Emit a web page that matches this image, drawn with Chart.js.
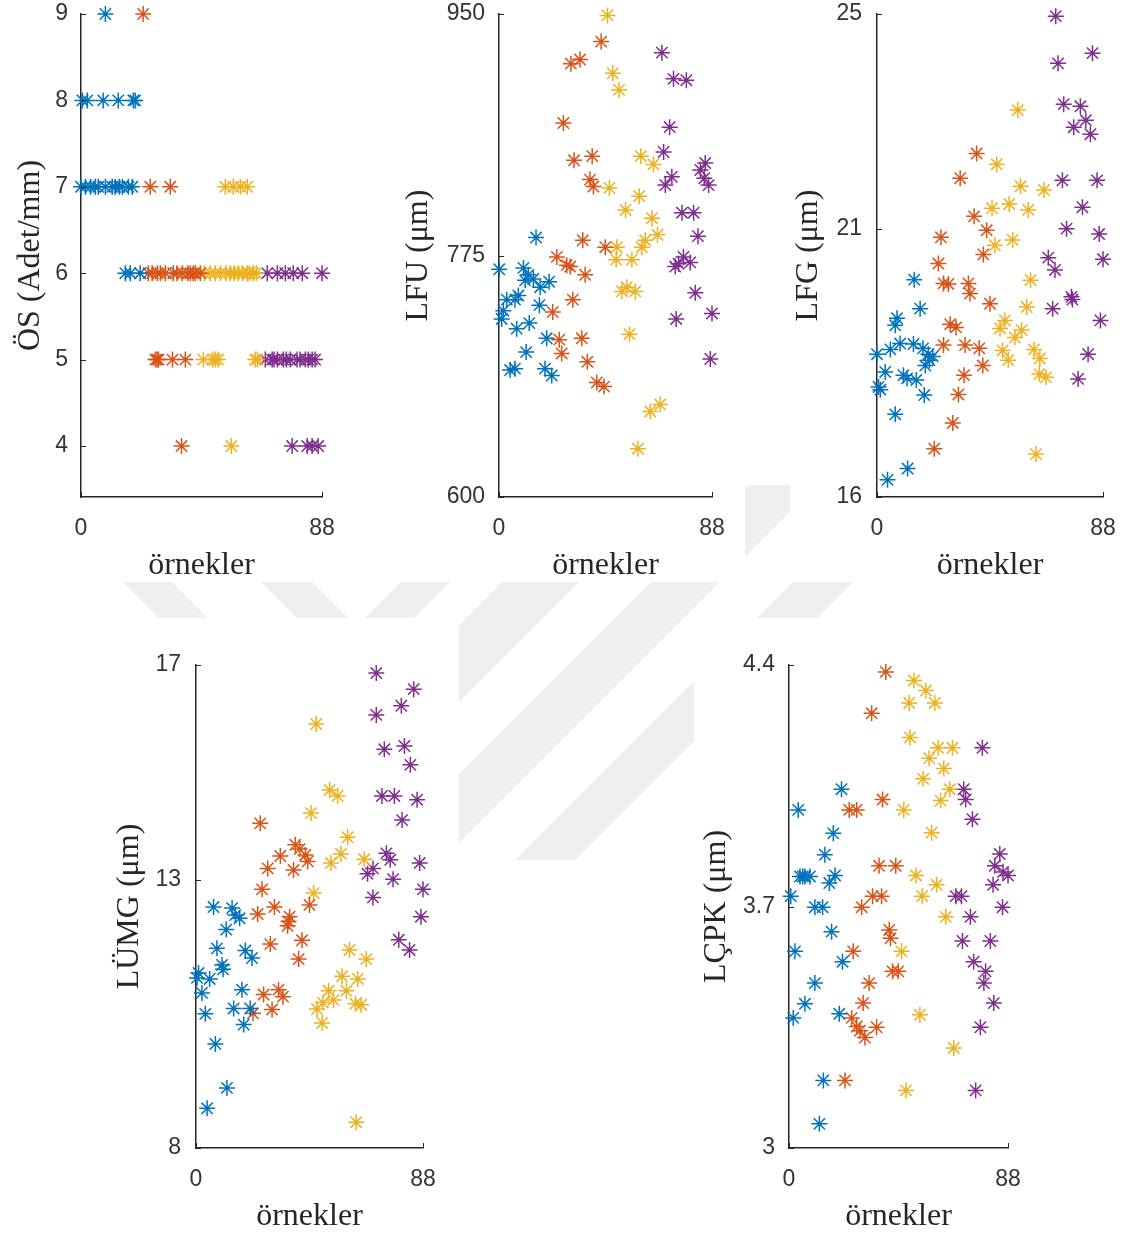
<!DOCTYPE html>
<html>
<head>
<meta charset="utf-8">
<script src="https://cdn.jsdelivr.net/npm/chart.js@4.4.0/dist/chart.umd.min.js"></script>
<style>
  body { margin: 0; background: #fff; width: 1126px; height: 1234px; position: relative; overflow: hidden; }
  #watermark { position: absolute; left: 0; top: 0; }
  .panel { position: absolute; }
</style>
</head>
<body>
<!-- faint background logo, mostly hidden behind the white figure boxes -->
<svg id="watermark" width="1126" height="1234">
  <g fill="#efefef">
    <polygon points="498,485 547,485 172,860 123,860"/>
    <polygon points="599,485 676,485 301,860 224,860"/>
    <polygon points="748,485 817,485 442,860 373,860"/>
    <polygon points="890,485 950,485 575,860 515,860"/>
    <polygon points="101,560 150,560 230,640 181,640"/>
    <polygon points="239,560 290,560 370,640 319,640"/>
  </g>
  <g fill="#fff">
    <rect x="0" y="0" width="745" height="582"/>
    <rect x="790" y="0" width="336" height="582"/>
    <rect x="0" y="618" width="459" height="616"/>
    <rect x="694" y="618" width="432" height="616"/>
  </g>
</svg>
<script>
// x axis and tick values
const xTicks = [0, 88];
const osTicks = [4, 5, 6, 7, 8, 9];
const lfuTicks = [600, 775, 950];
const lfgTicks = [16, 21, 25];
const lumgTicks = [8, 13, 17];
const lcpkTicks = [3, 3.7, 4.4];

// ÖS (Adet/mm)
const osBlue = [[8.9,9],[0.5,8],[2.3,8],[8.1,8],[13.6,8],[19.1,8],[19.8,8],
  [0,7],[1.6,7],[3.5,7],[5.2,7],[6.3,7],[8.9,7],[11.4,7],[12.5,7],[14,7],[15.1,7],[17.3,7],[18.7,7],
  [16.2,6],[18,6],[21.6,6]];
const osOrange = [[22.7,9],[25.3,7],[32.6,7],
  [24.6,6],[26,6],[27.9,6],[29,6],[30.8,6],[33.7,6],[35,6],[37,6],[39,6],[39.9,6],[41,6],[41.8,6],[43.6,6],
  [27.2,5],[27.8,5],[28.3,5],[33.4,5],[38.1,5],[36.7,4]];
const osYellow = [[52.7,7],[55.6,7],[58.2,7],[60.7,7],
  [45,6],[47.2,6],[49,6],[50.9,6],[53,6],[54.5,6],[56,6],[57.4,6],[59,6],[60.7,6],[61.5,6],[62.9,6],[64,6],
  [44.7,5],[48,5],[49,5],[50.1,5],[63.6,5],[64.4,5],[54.9,4]];
const osPurple = [[68,6],[71.7,6],[74.6,6],[77.5,6],[80.8,6],[88,6],
  [67.3,5],[69.8,5],[70.5,5],[71.7,5],[73.9,5],[75,5],[76.4,5],[78.9,5],[80,5],[81.9,5],[83,5],[84.4,5],[85.5,5],
  [77.1,4],[82.6,4],[84.4,4],[86.6,4]];

// LFU (µm)
const lfuBlue = [[15.3,788],[0.1,765],[10.1,766],[12.1,761],[14.2,758],[10.8,757],[17,752],[20.7,756],
  [3.2,743],[6.6,743],[8,746],[1.8,735],[1.1,729],[16.7,739],[7.3,722],[12.5,726],[19.7,715],[11.2,705],
  [4.6,692],[6.6,693],[19,693],[21.8,688]];
const lfuOrange = [[42.2,930],[29.7,914],[33.5,917],[26.6,871],[31,844],[38.5,847],[37.6,830],[39,825],
  [34.6,786],[43.9,781],[23.9,774],[28,768],[29.4,767],[35.6,761],[30.5,743],[22.2,734],[24.9,714],
  [34.2,715],[25.9,704],[36.5,698],[40.4,683],[43.4,680]];
const lfuYellow = [[44.8,949],[47,907],[49.6,895],[58.6,847],[63.8,841],[45.6,824],[57.9,818],[52.3,808],
  [63.2,802],[48.7,781],[60.4,786],[65.5,790],[59,781],[48.4,772],[54.9,772],[52.8,752],[56.3,749],
  [50.8,749],[53.9,718],[66.6,667],[62.5,662],[57.4,635]];
const lfuPurple = [[67.3,922],[72.1,903],[77.4,902],[70.5,868],[68,850],[85.2,842],[83.2,837],[84.8,831],
  [86.6,826],[71.4,832],[68.7,826],[75.6,806],[80.4,806],[82.2,789],[76.2,774],[79,770],[74.2,769],
  [72.8,767],[81.1,748],[88,733],[73.2,729],[87.3,700]];

// LFG (µm)
const lfgBlue = [[14.5,20.05],[16.8,19.51],[7.8,19.33],[7.1,19.2],[0,18.66],[5.2,18.75],[9,18.86],
  [14.2,18.85],[17.9,18.77],[20,18.66],[21.7,18.62],[20.4,18.55],[18.8,18.45],[3.2,18.33],[10.3,18.27],
  [11.7,18.21],[15.3,18.18],[0.6,18.05],[1.3,18],[18.4,17.9],[7.1,17.54],[11.9,16.53],[4.1,16.32]];
const lfgOrange = [[38.8,22.4],[32.4,21.94],[37.8,21.23],[42.7,20.97],[24.9,20.84],[41.4,20.52],
  [23.9,20.35],[25.9,19.98],[27.8,19.97],[35.6,19.98],[36.2,19.79],[44,19.6],[28.5,19.22],[30.8,19.16],
  [25.9,18.83],[34.3,18.83],[39.8,18.77],[41.2,18.45],[33.9,18.27],[31.7,17.91],[29.5,17.38],[22.3,16.9]];
const lfgYellow = [[54.8,23.21],[46.6,22.2],[55.9,21.79],[65,21.72],[44.8,21.38],[51.5,21.46],[58.9,21.35],
  [45.9,20.69],[52.8,20.79],[59.8,20.04],[58.3,19.54],[49.8,19.29],[47.9,19.14],[56.3,19.11],[53.7,18.97],
  [48.9,18.73],[51.1,18.55],[61.1,18.75],[63.4,18.58],[63.2,18.29],[65.8,18.23],[61.9,16.8]];
const lfgPurple = [[69.6,24.96],[83.9,24.27],[70.5,24.08],[72.7,23.32],[79.2,23.28],[81.3,23.02],
  [76.6,22.89],[83.1,22.76],[72.2,21.9],[85.7,21.9],[80,21.4],[73.8,21],[86.5,20.9],[66.7,20.46],
  [88,20.43],[69.3,20.23],[75.7,19.73],[76.1,19.68],[68.4,19.51],[87,19.29],[82.2,18.66],[78.3,18.2]];

// LÜMG (µm)
const lumgBlue = [[6.8,12.49],[14,12.47],[15.2,12.34],[16.9,12.28],[11.7,12.07],[8.1,11.72],[10.1,11.41],
  [10.5,11.33],[1,11.26],[0.4,11.17],[5.3,11.15],[2.3,10.89],[19.1,11.68],[21.7,11.54],[17.8,10.95],
  [14.6,10.6],[21,10.6],[18.5,10.3],[3.6,10.5],[7.5,9.94],[12,9.12],[4.3,8.74]];
const lumgOrange = [[24.9,14.05],[38.5,13.65],[40.2,13.57],[32.7,13.44],[42.4,13.46],[43.3,13.34],
  [27.8,13.21],[37.8,13.18],[25.6,12.82],[44,12.53],[23.9,12.36],[30.4,12.49],[36.3,12.31],[35.9,12.22],
  [35.5,12.14],[28.8,11.8],[41.1,11.87],[39.8,11.52],[26.2,10.86],[32,10.95],[33.7,10.82],[29.5,10.58],[22.1,10.51]];
const lumgYellow = [[46.6,15.9],[51.8,14.67],[54.9,14.56],[44.6,14.24],[58.8,13.79],[56.2,13.48],
  [52.3,13.31],[65.2,13.38],[45.6,12.75],[59.5,11.69],[66,11.52],[56.6,11.2],[62.7,11.15],[51.4,10.93],
  [58.3,10.93],[53.3,10.76],[49.2,10.71],[46.9,10.59],[48.9,10.33],[61.8,10.69],[64,10.67],[62.1,8.48]];
const lumgPurple = [[69.9,16.85],[84.4,16.55],[79.6,16.24],[69.9,16.07],[73,15.43],[80.8,15.49],
  [83.1,15.14],[72.1,14.56],[76.9,14.56],[85.7,14.49],[79.9,14.11],[73.8,13.49],[75.3,13.37],[68.6,13.21],
  [66.5,13.11],[76.4,13.01],[86.7,13.31],[88,12.82],[68.6,12.67],[87.2,12.31],[78.6,11.88],[82.8,11.69]];

// LÇPK (µm)
const lcpkBlue = [[21.1,4.04],[3.7,3.98],[17.8,3.912],[14.4,3.85],[4.4,3.787],[5.5,3.787],[6.4,3.787],
  [8.4,3.787],[18.5,3.79],[16.2,3.768],[0.7,3.73],[10.4,3.698],[13.5,3.698],[17.1,3.627],[2.4,3.57],
  [21.5,3.54],[10.4,3.478],[6.4,3.418],[1.7,3.377],[20.2,3.389],[13.8,3.196],[12.2,3.07]];
const lcpkOrange = [[38.9,4.38],[33.2,4.26],[37.6,4.01],[24.2,3.98],[27.2,3.98],[36.2,3.818],[42.9,3.818],
  [33.6,3.73],[37.2,3.73],[29.2,3.698],[40.3,3.632],[40.8,3.608],[25.8,3.57],[41.6,3.512],[43.9,3.512],
  [32.2,3.478],[29.8,3.42],[25.2,3.377],[27.2,3.352],[30.5,3.32],[35.2,3.35],[28.5,3.34],[22.5,3.196]];
const lcpkYellow = [[50.2,4.355],[55,4.326],[48.3,4.29],[58.6,4.29],[48.6,4.19],[59.9,4.16],[65.7,4.16],
  [56.3,4.13],[62.2,4.1],[53.9,4.07],[64.6,4.04],[60.9,4.007],[46.1,3.98],[57.3,3.914],[51,3.79],
  [59.3,3.763],[53.5,3.73],[63,3.67],[45.2,3.57],[52.6,3.386],[66.2,3.29],[47,3.167]];
const lcpkPurple = [[77.7,4.16],[70.2,4.04],[71,4.01],[73.7,3.953],[84.7,3.852],[82.7,3.818],[86,3.8],
  [88,3.79],[82,3.763],[67,3.73],[69.3,3.73],[85.8,3.698],[72.9,3.67],[69.7,3.6],[80.9,3.6],[74.2,3.54],
  [79,3.512],[78.3,3.478],[82.3,3.42],[76.9,3.35],[75,3.167]];

// MATLAB default colour order
const colors = ["#0072BD", "#D95319", "#EDB120", "#7E2F8E"];

const panels = [
  { label: "ÖS (Adet/mm)", yMin: 3.41, yMax: 9, yTicks: osTicks, series: [osBlue, osOrange, osYellow, osPurple],
    box: { left: 81, right: 322, top: 14, bottom: 497 }, titleX: 30, tickPad: 13 },
  { label: "LFU (μm)", yMin: 600, yMax: 950, yTicks: lfuTicks, series: [lfuBlue, lfuOrange, lfuYellow, lfuPurple],
    box: { left: 499, right: 712, top: 14, bottom: 497 }, titleX: 418, tickPad: 14 },
  { label: "LFG (μm)", yMin: 16, yMax: 25, yTicks: lfgTicks, series: [lfgBlue, lfgOrange, lfgYellow, lfgPurple],
    box: { left: 877, right: 1103, top: 14, bottom: 497 }, titleX: 808, tickPad: 15 },
  { label: "LÜMG (μm)", yMin: 8, yMax: 17, yTicks: lumgTicks, series: [lumgBlue, lumgOrange, lumgYellow, lumgPurple],
    box: { left: 196, right: 423, top: 665, bottom: 1148 }, titleX: 129, tickPad: 15 },
  { label: "LÇPK (μm)", yMin: 3, yMax: 4.4, yTicks: lcpkTicks, series: [lcpkBlue, lcpkOrange, lcpkYellow, lcpkPurple],
    box: { left: 789, right: 1008, top: 665, bottom: 1148 }, titleX: 716, tickPad: 14 },
];

const axisColor = "#262626";

// MATLAB draws its tick marks inside the axes
const innerTicks = {
  id: "innerTicks",
  afterDatasetsDraw(chart) {
    const { ctx, chartArea, scales } = chart;
    ctx.save();
    ctx.strokeStyle = axisColor;
    ctx.lineWidth = 1;
    ctx.beginPath();
    scales.y.ticks.forEach((t) => {
      const py = Math.round(scales.y.getPixelForValue(t.value)) + 0.5;
      ctx.moveTo(chartArea.left, py);
      ctx.lineTo(chartArea.left + 5, py);
    });
    scales.x.ticks.forEach((t) => {
      const px = Math.round(scales.x.getPixelForValue(t.value)) + 0.5;
      ctx.moveTo(px, chartArea.bottom);
      ctx.lineTo(px, chartArea.bottom - 5);
    });
    ctx.stroke();
    ctx.restore();
  },
};

function createPanel(p) {
  const padTop = 30, padRight = 24, xAxisH = 88;
  const left = Math.round(p.titleX - 19);
  const yAxisW = p.box.left - left;

  const div = document.createElement("div");
  div.className = "panel";
  div.style.left = left + "px";
  div.style.top = p.box.top - padTop + "px";
  div.style.width = p.box.right - left + padRight + "px";
  div.style.height = p.box.bottom - p.box.top + padTop + xAxisH + "px";
  const canvas = document.createElement("canvas");
  div.appendChild(canvas);
  document.body.appendChild(div);

  const tickFont = { family: "'Liberation Sans', Arial, sans-serif", size: 23 };
  const titleFont = { family: "'Liberation Serif', 'Times New Roman', serif", size: 32 };

  new Chart(canvas, {
    type: "scatter",
    data: {
      datasets: p.series.map((pts, i) => ({
        data: pts.map(([x, y]) => ({ x, y })),
        pointStyle: "star",
        pointRadius: 8,
        borderWidth: 1.5,
        borderColor: colors[i],
        backgroundColor: colors[i],
        clip: false,
      })),
    },
    options: {
      responsive: true,
      maintainAspectRatio: false,
      animation: false,
      events: [],
      layout: { autoPadding: false, padding: { top: padTop, right: padRight, left: 0, bottom: 0 } },
      plugins: { legend: { display: false }, tooltip: { enabled: false } },
      scales: {
        x: {
          type: "linear",
          min: 0,
          max: 88,
          afterBuildTicks: (s) => { s.ticks = xTicks.map((v) => ({ value: v })); },
          afterFit: (s) => {
            s.height = xAxisH;
            s.paddingLeft = 0;
            s.paddingRight = 0;
          },
          grid: { display: false, drawTicks: false },
          border: { display: true, color: axisColor, width: 1.5 },
          ticks: { font: tickFont, color: "#333", padding: 18, maxRotation: 0, autoSkip: false },
          title: { display: true, text: "örnekler", font: titleFont, color: axisColor, padding: 0 },
        },
        y: {
          type: "linear",
          min: p.yMin,
          max: p.yMax,
          afterBuildTicks: (s) => { s.ticks = p.yTicks.map((v) => ({ value: v })); },
          afterFit: (s) => {
            s.width = yAxisW;
            s.paddingTop = 0;
            s.paddingBottom = 0;
          },
          grid: { display: false, drawTicks: false },
          border: { display: true, color: axisColor, width: 1.5 },
          ticks: {
            font: tickFont,
            color: "#333",
            padding: p.tickPad,
            autoSkip: false,
            callback: (v) => String(+v.toFixed(2)),
          },
          title: { display: true, text: p.label, font: titleFont, color: axisColor, padding: 0 },
        },
      },
    },
    plugins: [innerTicks],
  });
}

panels.forEach(createPanel);
</script>
</body>
</html>
